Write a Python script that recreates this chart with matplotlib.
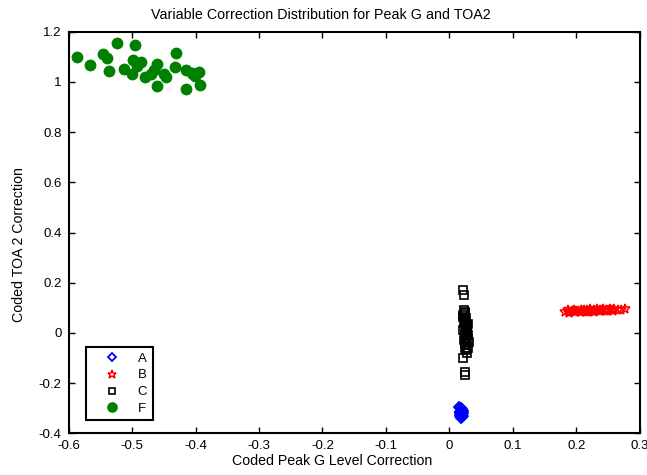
#!/usr/bin/env python3
"""Scatter: distribuzione correzioni Peak G vs TOA2 (gruppi A, B, C, F)."""
import matplotlib
matplotlib.use("Agg")
import matplotlib.pyplot as plt

plt.rcParams["font.family"] = ["Liberation Sans", "DejaVu Sans"]
plt.rcParams["axes.unicode_minus"] = False

# --- dati ---
A_x = [0.015, 0.017, 0.019, 0.021, 0.018, 0.016, 0.020, 0.022, 0.017, 0.019,
       0.018, 0.016, 0.021, 0.019, 0.018, 0.020, 0.017, 0.019, 0.018, 0.020]
A_y = [-0.295, -0.300, -0.305, -0.310, -0.312, -0.315, -0.318, -0.320, -0.322, -0.325,
       -0.327, -0.330, -0.332, -0.335, -0.338, -0.308, -0.316, -0.324, -0.300, -0.333]

B_x = [0.182, 0.186, 0.190, 0.193, 0.196, 0.199, 0.202, 0.205, 0.207, 0.210,
       0.212, 0.215, 0.217, 0.220, 0.222, 0.225, 0.227, 0.230, 0.232, 0.235,
       0.237, 0.240, 0.242, 0.245, 0.247, 0.250, 0.253, 0.256, 0.260, 0.265,
       0.270, 0.276, 0.188, 0.198, 0.208, 0.218, 0.228, 0.238, 0.248, 0.258]
B_y = [0.085, 0.090, 0.083, 0.088, 0.092, 0.086, 0.089, 0.084, 0.091, 0.087,
       0.093, 0.085, 0.090, 0.088, 0.094, 0.086, 0.091, 0.089, 0.095, 0.087,
       0.092, 0.090, 0.096, 0.088, 0.093, 0.091, 0.095, 0.090, 0.094, 0.092,
       0.093, 0.097, 0.081, 0.083, 0.082, 0.084, 0.085, 0.086, 0.087, 0.088]

C_x = [0.022, 0.023, 0.023, 0.025, 0.022, 0.026, 0.024, 0.023, 0.027, 0.025,
       0.022, 0.028, 0.024, 0.026, 0.023, 0.030, 0.025, 0.027, 0.024, 0.026,
       0.022, 0.025, 0.026, 0.027, 0.021, 0.025, 0.029, 0.031, 0.028, 0.030,
       0.024, 0.026, 0.029, 0.025]
C_y = [0.170, 0.150, 0.090, 0.080, 0.070, 0.060, 0.050, 0.040, 0.030, 0.020,
       0.010, 0.000, -0.010, -0.020, -0.030, -0.010, 0.045, 0.015, -0.040, -0.050,
       0.065, -0.060, -0.070, -0.080, -0.100, -0.155, -0.025, -0.035, 0.005, -0.060,
       0.085, 0.025, 0.035, -0.168]

F_x = [-0.586, -0.566, -0.546, -0.539, -0.523, -0.536, -0.513, -0.500, -0.495, -0.498,
       -0.493, -0.486, -0.480, -0.466, -0.461, -0.461, -0.446, -0.432, -0.430, -0.415,
       -0.415, -0.406, -0.401, -0.394, -0.393, -0.470, -0.450, -0.404]
F_y = [1.101, 1.068, 1.111, 1.095, 1.155, 1.044, 1.051, 1.031, 1.147, 1.088,
       1.064, 1.079, 1.018, 1.048, 1.071, 0.986, 1.019, 1.058, 1.117, 1.046,
       0.974, 1.035, 1.024, 1.039, 0.987, 1.030, 1.030, 1.030]

X_TICKS = [-0.6, -0.5, -0.4, -0.3, -0.2, -0.1, 0, 0.1, 0.2, 0.3]
Y_TICKS = [-0.4, -0.2, 0, 0.2, 0.4, 0.6, 0.8, 1, 1.2]


def fmt(v):
    return f"{v:g}"


def main():
    fig = plt.figure(figsize=(6.47, 4.75), dpi=100)
    ax = fig.add_axes([0.106, 0.088, 0.883, 0.845])

    ax.plot(A_x, A_y, linestyle="none", marker="D", markersize=5,
            markerfacecolor="none", markeredgecolor="#0000ff",
            markeredgewidth=1.3, label="A")
    ax.plot(B_x, B_y, linestyle="none", marker="*", markersize=7,
            markerfacecolor="none", markeredgecolor="#ff0000",
            markeredgewidth=1.1, label="B")
    ax.plot(C_x, C_y, linestyle="none", marker="s", markersize=5.5,
            markerfacecolor="none", markeredgecolor="black",
            markeredgewidth=1.2, label="C")
    ax.plot(F_x, F_y, linestyle="none", marker="o", markersize=8.5,
            color="#008000", markeredgewidth=0, label="F")

    ax.set_xlim(-0.6, 0.3)
    ax.set_ylim(-0.4, 1.2)
    ax.set_xticks(X_TICKS)
    ax.set_xticklabels([fmt(v) for v in X_TICKS])
    ax.set_yticks(Y_TICKS)
    ax.set_yticklabels([fmt(v) for v in Y_TICKS])
    ax.tick_params(direction="in", top=True, right=True, length=4,
                   width=1, labelsize=9.5, pad=5)
    for s in ax.spines.values():
        s.set_linewidth(1.5)

    fig.suptitle("Variable Correction Distribution for Peak G and TOA2",
                 fontsize=10.3, x=0.496, y=0.968, va="center")
    ax.set_xlabel("Coded Peak G Level Correction", fontsize=10.2,
                  labelpad=1, x=0.461)
    ax.set_ylabel("Coded TOA 2 Correction", fontsize=10.2,
                  labelpad=9, y=0.469)

    leg = ax.legend(loc="lower left", bbox_to_anchor=(0.031, 0.032),
                    borderaxespad=0, fontsize=9.5, fancybox=False,
                    framealpha=1, edgecolor="black", handlelength=3.1,
                    handletextpad=0.4, borderpad=0.4, labelspacing=0.35,
                    markerscale=0.9)
    leg.get_frame().set_linewidth(1.5)

    fig.savefig("out.png", dpi=100)


if __name__ == "__main__":
    main()
